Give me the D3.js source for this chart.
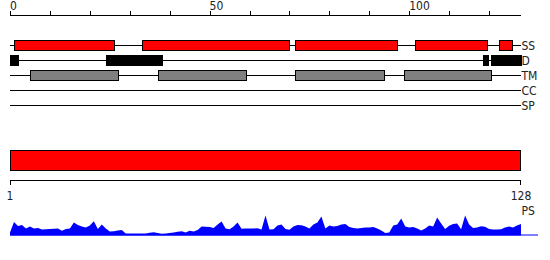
<!DOCTYPE html>
<html>
<head>
<meta charset="utf-8">
<script src="https://cdn.jsdelivr.net/npm/d3@7"></script>
<style>
  body { margin: 0; background: #fff; }
  text { font-family: "DejaVu Sans Condensed", "DejaVu Sans", sans-serif; fill: #222; }
</style>
</head>
<body>
<div id="chart"></div>
<script>
// sequence length and feature tracks (residue ranges, start/end)
var seqLength = 128;
var trackNames = ["SS", "D", "TM", "CC", "SP"];
var ssRanges = [[1, 26], [33, 70], [71.5, 97], [101.5, 119.5], [122.5, 125.7]];
var dRanges = [[0, 2], [24, 38], [118.5, 119.7], [120.5, 128]];
var tmRanges = [[5, 27], [37, 59], [71.5, 93.7], [98.6, 120.6]];
var ccRanges = [];
var spRanges = [];
var topTicks = [0, 50, 100];
var bottomLabels = [1, 128];

// PS profile, one value per position 0..128
var psValues = [3, 13.5, 9.5, 10.5, 7, 9, 7, 7.5, 6, 6.3,
  6.5, 6.8, 7, 4.7, 6.5, 7, 13, 10.5, 9, 8,
  10, 14.3, 6.5, 11, 7, 4, 4.3, 5, 5.5, 2,
  2, 2, 2, 2, 2, 2.8, 3.2, 2.5, 1.8, 2,
  2.6, 3, 3.8, 4.3, 3, 4.7, 4, 5.5, 9, 8.8,
  8.5, 7.5, 11, 14, 7, 6.2, 9, 13, 6.7, 7,
  7, 7, 7.3, 6, 20, 6, 6.3, 10, 11, 6.5,
  5.7, 9, 10.5, 10.2, 9, 7, 11, 13, 19, 7,
  10, 9, 9.5, 11, 11.5, 8.5, 7.5, 7, 7.5, 8,
  8, 8.5, 7, 5, 2.5, 3, 10, 11, 17, 9,
  8, 8.5, 7, 5, 7, 10, 9, 18, 12, 6.5,
  9.7, 11.5, 12, 6.3, 20, 11, 7.5, 8, 9.3, 8.7,
  6.5, 6, 6, 6.3, 8, 9, 8, 10, 11.5];

var width = 550, height = 260;
var svg = d3.select("#chart").append("svg")
    .attr("width", width).attr("height", height);

var x = d3.scaleLinear().domain([0, seqLength]).range([10, 521]);
var rowY = d3.scalePoint().domain(trackNames).range([45, 105]);

// top ruler
var topAxis = svg.append("g");
topAxis.append("line")
    .attr("x1", x(0)).attr("x2", x(seqLength))
    .attr("y1", 15.5).attr("y2", 15.5)
    .attr("stroke", "#000");
topAxis.selectAll("line.tick")
    .data(d3.range(0, seqLength, 10))
    .enter().append("line")
    .attr("class", "tick")
    .attr("x1", function(d) { return Math.round(x(d)) + 0.5; })
    .attr("x2", function(d) { return Math.round(x(d)) + 0.5; })
    .attr("y1", 11).attr("y2", 15.5)
    .attr("stroke", "#000");
topAxis.selectAll("text")
    .data(topTicks)
    .enter().append("text")
    .attr("x", function(d) { return x(d); })
    .attr("y", 10)
    .style("font-size", "12px")
    .text(function(d) { return d; });

// feature tracks
var tracks = [ssRanges, dRanges, tmRanges, ccRanges, spRanges];
var fills = ["#ff0000", "#000000", "#808080", "#808080", "#808080"];

trackNames.forEach(function(name, i) {
    var g = svg.append("g");
    var y = rowY(name);
    g.append("line")
        .attr("x1", x(0)).attr("x2", x(seqLength))
        .attr("y1", y + 0.5).attr("y2", y + 0.5)
        .attr("stroke", "#000");
    g.selectAll("rect")
        .data(tracks[i])
        .enter().append("rect")
        .attr("x", function(d) { return Math.round(x(d[0])) + 0.5; })
        .attr("width", function(d) { return Math.round(x(d[1])) - Math.round(x(d[0])); })
        .attr("y", y - 4.5)
        .attr("height", 10)
        .attr("fill", fills[i])
        .attr("stroke", "#000");
    g.append("text")
        .attr("x", x(seqLength) + 0.5)
        .attr("y", y + 0.5)
        .attr("dy", "0.36em")
        .style("font-size", "12px")
        .text(name);
});

// whole sequence bar
svg.append("rect")
    .attr("x", x(0) + 0.5).attr("y", 150.5)
    .attr("width", x(seqLength) - x(0) - 1).attr("height", 20)
    .attr("fill", "#ff0000").attr("stroke", "#000");

// bottom ruler
svg.append("line")
    .attr("x1", x(0)).attr("x2", x(seqLength))
    .attr("y1", 180.5).attr("y2", 180.5)
    .attr("stroke", "#000");
svg.selectAll("line.btick")
    .data([0, seqLength])
    .enter().append("line")
    .attr("class", "btick")
    .attr("x1", function(d) { return Math.round(x(d)) + (d ? -0.5 : 0.5); })
    .attr("x2", function(d) { return Math.round(x(d)) + (d ? -0.5 : 0.5); })
    .attr("y1", 180.5).attr("y2", 185)
    .attr("stroke", "#000");
svg.selectAll("text.blabel")
    .data(bottomLabels)
    .enter().append("text")
    .attr("class", "blabel")
    .attr("x", function(d, i) { return x(i ? seqLength : 0); })
    .attr("y", 200)
    .attr("text-anchor", "middle")
    .style("font-size", "12px")
    .text(function(d) { return d; });
svg.append("text")
    .attr("x", x(seqLength) + 0.5)
    .attr("y", 215)
    .style("font-size", "12px")
    .text("PS");

// PS profile
var yPs = d3.scaleLinear().domain([0, 21]).range([235.5, 214.5]);
var area = d3.area()
    .x(function(d, i) { return x(i); })
    .y0(yPs(0))
    .y1(function(d) { return yPs(d); });
svg.append("path")
    .datum(psValues)
    .attr("d", area)
    .attr("fill", "#0000ff");
svg.append("line")
    .attr("x1", x(0)).attr("x2", 538)
    .attr("y1", 235).attr("y2", 235)
    .attr("stroke", "#0000ff");
</script>
</body>
</html>
